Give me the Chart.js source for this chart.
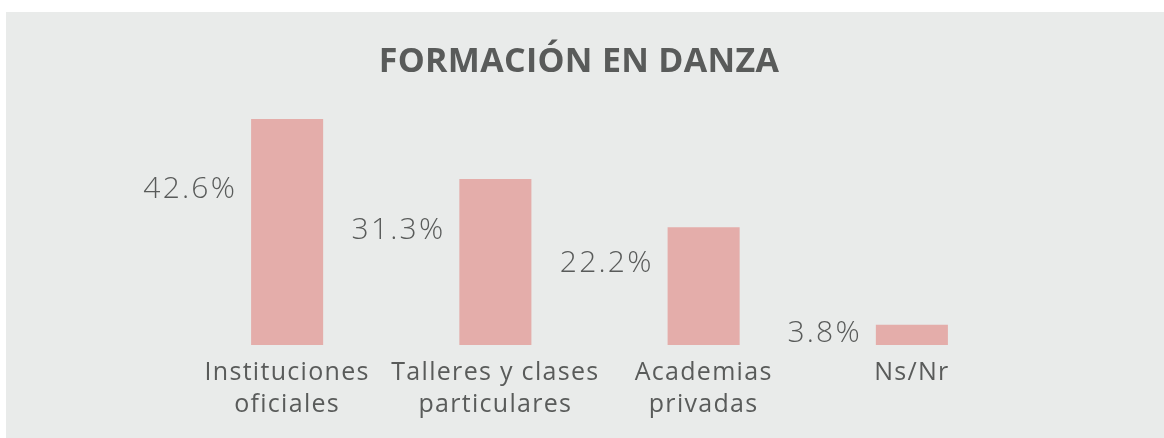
<!DOCTYPE html>
<html>
<head>
<meta charset="utf-8">
<script src="https://cdn.jsdelivr.net/npm/chart.js@4/dist/chart.umd.min.js"></script>
<style>
  html, body { margin: 0; padding: 0; background: #ffffff; }
  #wrap { position: absolute; left: 0; top: 0; width: 1164px; height: 438px; }
</style>
</head>
<body>
<div id="wrap"><canvas id="c" width="1164" height="438"></canvas></div>
<script>
const titleText = 'FORMACIÓN EN DANZA';
const categories = [
  ['Instituciones', 'oficiales'],
  ['Talleres y clases', 'particulares'],
  ['Academias', 'privadas'],
  ['Ns/Nr']
];
const values = [42.6, 31.3, 22.2, 3.8];
const valueLabels = ['42.6%', '31.3%', '22.2%', '3.8%'];

const TEXT = '#595b5a';
const FONT = "'Open Sans', sans-serif";

const bgPlugin = {
  id: 'bg',
  beforeDraw(chart) {
    const ctx = chart.ctx;
    ctx.save();
    ctx.fillStyle = '#ffffff';
    ctx.fillRect(0, 0, chart.width, chart.height);
    ctx.fillStyle = '#e9ebea';
    ctx.fillRect(6, 12, chart.width - 6, chart.height - 12);
    ctx.restore();
    // title
    ctx.save();
    ctx.fillStyle = TEXT;
    ctx.font = "700 34px " + FONT;
    ctx.letterSpacing = '0.3px';
    ctx.textAlign = 'center';
    ctx.textBaseline = 'alphabetic';
    ctx.fillText(titleText, 579, 72);
    ctx.restore();
    // spacing for tick labels
    ctx.letterSpacing = '1.3px';
  }
};

const valueLabelPlugin = {
  id: 'valueLabels',
  afterDatasetsDraw(chart) {
    const ctx = chart.ctx;
    const meta = chart.getDatasetMeta(0);
    ctx.save();
    ctx.fillStyle = TEXT;
    ctx.font = "300 30px " + FONT;
    ctx.letterSpacing = '2.2px';
    ctx.textAlign = 'right';
    ctx.textBaseline = 'middle';
    meta.data.forEach((bar, i) => {
      const p = bar.getProps(['x', 'y', 'base', 'width'], true);
      const h = p.base - p.y;
      const ty = p.y + Math.max(h * 0.31, 9);
      ctx.fillText(valueLabels[i], p.x - p.width / 2 - 14, ty);
    });
    ctx.restore();
  }
};

new Chart(document.getElementById('c'), {
  type: 'bar',
  data: {
    labels: categories,
    datasets: [{
      data: values,
      backgroundColor: '#e4adaa',
      borderWidth: 0,
      barPercentage: 0.346,
      categoryPercentage: 1.0
    }]
  },
  options: {
    responsive: false,
    animation: false,
    events: [],
    layout: { padding: { left: 183, right: 148, top: 101, bottom: 5 } },
    plugins: {
      legend: { display: false },
      tooltip: { enabled: false },
      title: { display: false }
    },
    scales: {
      x: {
        grid: { display: false, drawTicks: false },
        border: { display: false },
        ticks: {
          color: TEXT,
          font: { family: FONT, size: 25, weight: '400', lineHeight: 1.28 },
          padding: 12,
          maxRotation: 0,
          autoSkip: false
        }
      },
      y: {
        display: false,
        min: 0,
        max: 46
      }
    }
  },
  plugins: [bgPlugin, valueLabelPlugin]
});
</script>
</body>
</html>
